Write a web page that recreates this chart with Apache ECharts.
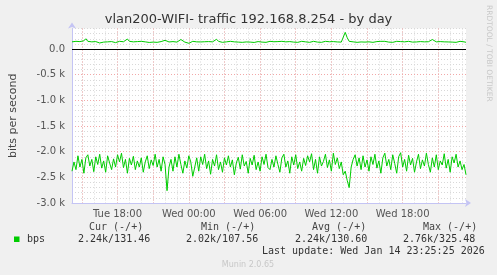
<!DOCTYPE html>
<html><head><meta charset="utf-8">
<script src="https://cdn.jsdelivr.net/npm/echarts@6/dist/echarts.min.js"></script>
<style>html,body{margin:0;padding:0;background:#f0f0f0}#c{width:497px;height:275px}</style>
</head><body><div id="c"></div>
<script>
// time axis: minutes since Tue 00:00, one sample every 10 minutes
const startMinute = 850;   // Tue 14:10
const stepMinutes = 10;
const dayNames = ['Tue', 'Wed'];

const yTickValues = [0, -500, -1000, -1500, -2000, -2500, -3000];
const yTickLabels = ['0.0', '-0.5 k', '-1.0 k', '-1.5 k', '-2.0 k', '-2.5 k', '-3.0 k'];

// outgoing traffic (drawn negative), bits per second
const outBps = [
 -2380,-2200,-2350,-2080,-2300,-2150,-2420,-2120,-2060,-2280,
 -2150,-2390,-2100,-2250,-2050,-2320,-2180,-2400,-2080,-2220,
 -2350,-2140,-2300,-2060,-2200,-2030,-2310,-2150,-2420,-2130,
 -2260,-2090,-2350,-2180,-2300,-2120,-2400,-2200,-2080,-2330,
 -2160,-2270,-2050,-2300,-2150,-2380,-2100,-2250,-2760,-2300,
 -2150,-2380,-2100,-2300,-2050,-2250,-2420,-2180,-2320,-2080,
 -2200,-2480,-2300,-2120,-2380,-2100,-2250,-2050,-2330,-2180,
 -2440,-2150,-2280,-2060,-2350,-2200,-2400,-2120,-2260,-2080,
 -2300,-2160,-2450,-2220,-2110,-2340,-2060,-2280,-2190,-2420,
 -2130,-2260,-2070,-2350,-2200,-2380,-2100,-2250,-2050,-2310,
 -2350,-2150,-2300,-2080,-2250,-2400,-2120,-2050,-2300,-2180,
 -2420,-2100,-2260,-2060,-2330,-2200,-2380,-2130,-2270,-2080,
 -2200,-2040,-2350,-2150,-2420,-2100,-2280,-2190,-2050,-2310,
 -2160,-2380,-2030,-2250,-2120,-2330,-2200,-2450,-2380,-2560,
 -2700,-2300,-2150,-2060,-2280,-2120,-2350,-2080,-2300,-2160,
 -2380,-2100,-2250,-2050,-2320,-2180,-2420,-2120,-2030,-2280,
 -2150,-2350,-2060,-2230,-2420,-2100,-2020,-2300,-2150,-2380,
 -2070,-2260,-2130,-2400,-2200,-2050,-2330,-2160,-2280,-2030,
 -2250,-2400,-2120,-2300,-2060,-2350,-2180,-2260,-2040,-2320,
 -2150,-2400,-2100,-2220,-2050,-2300,-2180,-2350,-2250,-2450
];
// incoming traffic, bits per second
const inBps = [
 140,135,150,130,145,125,160,200,150,135,
 140,130,145,150,118,140,135,150,140,130,
 145,138,125,140,150,135,142,160,195,150,
 135,140,130,145,138,150,132,140,145,128,
 150,135,140,130,142,145,135,170,150,138,
 130,145,140,135,150,185,150,135,140,112,
 145,150,135,140,130,138,150,142,130,145,
 135,140,150,190,150,138,130,145,140,135,
 150,128,140,145,135,150,130,142,138,145,
 135,150,128,140,145,160,135,140,130,145,
 150,135,142,130,145,138,150,135,140,108,
 145,150,135,140,130,142,150,135,140,145,
 130,138,150,140,135,145,130,140,150,135,
 142,130,145,140,138,150,135,140,325,220,
 150,135,140,145,130,150,138,142,135,145,
 140,150,130,140,145,135,150,180,150,140,
 135,145,130,140,150,138,145,135,140,130,
 150,140,135,145,138,130,145,150,140,135,
 142,130,185,150,140,135,145,130,140,150,
 138,145,135,140,130,145,150,135,140,131
];

const legendHeaders = ['Cur (-/+)', 'Min (-/+)', 'Avg (-/+)', 'Max (-/+)'];
const legendValues = ['2.24k/131.46', '2.02k/107.56', '2.24k/130.60', '2.76k/325.48'];
const lastUpdate = 'Last update: Wed Jan 14 23:25:25 2026';

function minuteOf(i) { return startMinute + i * stepMinutes; }
function fmtMinute(m) {
  const d = Math.floor(m / 1440), r = m % 1440;
  const hh = String(Math.floor(r / 60)).padStart(2, '0');
  const mm = String(r % 60).padStart(2, '0');
  return dayNames[d] + ' ' + hh + ':' + mm;
}
const categories = outBps.map((_, i) => fmtMinute(minuteOf(i)));

const GREEN = '#00cc00';
const AXIS = '#c4c4f4';
const MINOR = '#d8d8d8';
const MAJOR = '#f2a8a8';
const SANS = 'DejaVu Sans';
const MONO = 'DejaVu Sans Mono';

const chart = echarts.init(document.getElementById('c'), null, {renderer: 'canvas'});

const headerX = [89, 201, 312, 423];
const valueX = [78, 186, 295, 403];
const graphics = [
  {type: 'rect', shape: {x: 14, y: 236.5, width: 5.5, height: 5.5}, style: {fill: GREEN}, silent: true},
  {type: 'text', x: 27, y: 239.5, style: {text: 'bps', font: '10px ' + MONO, fill: '#333', verticalAlign: 'middle'}, silent: true},
  {type: 'text', x: 262, y: 251.5, style: {text: lastUpdate, font: '10px ' + MONO, fill: '#333', verticalAlign: 'middle'}, silent: true},
  {type: 'text', x: 248, y: 265, style: {text: 'Munin 2.0.65', font: '8px ' + SANS, fill: '#c8c8c8', align: 'center', verticalAlign: 'middle'}, silent: true},
  {type: 'text', x: 489, y: 5, rotation: -Math.PI / 2, style: {text: 'RRDTOOL / TOBI OETIKER', font: '7.5px ' + SANS, fill: '#c8c8c8', align: 'left', verticalAlign: 'middle'}, silent: true}
];
legendHeaders.forEach((t, k) => graphics.push({type: 'text', x: headerX[k], y: 227.5,
  style: {text: t, font: '10px ' + MONO, fill: '#444', verticalAlign: 'middle'}, silent: true}));
legendValues.forEach((t, k) => graphics.push({type: 'text', x: valueX[k], y: 239.5,
  style: {text: t, font: '10px ' + MONO, fill: '#333', verticalAlign: 'middle'}, silent: true}));

chart.setOption({
  animation: false,
  backgroundColor: '#f0f0f0',
  title: {
    text: 'vlan200-WIFI- traffic 192.168.8.254 - by day',
    left: 'center', top: 8,
    textStyle: {fontFamily: SANS, fontSize: 13, fontWeight: 'normal', color: '#333'}
  },
  grid: {left: 66, top: 28.5, right: 31, bottom: 72, show: true, backgroundColor: '#ffffff', borderWidth: 0},
  xAxis: [
    {
      type: 'category', data: categories, boundaryGap: false, position: 'bottom',
      axisLine: {show: true, onZero: false, lineStyle: {color: AXIS, width: 1},
        symbol: ['none', 'arrow'], symbolSize: [6, 6], symbolOffset: [0, 5]},
      axisTick: {show: false},
      axisLabel: {
        interval: (i) => minuteOf(i) % 360 === 0,
        color: '#555', fontFamily: SANS, fontSize: 10, margin: 6
      },
      splitLine: {show: true, interval: (i) => minuteOf(i) % 60 === 0,
        lineStyle: {color: MINOR, width: 1, type: [1, 2]}}
    },
    {
      type: 'category', data: categories, boundaryGap: false, position: 'top',
      axisLine: {show: false}, axisTick: {show: false}, axisLabel: {show: false},
      splitLine: {show: true, interval: (i) => minuteOf(i) % 180 === 0,
        lineStyle: {color: MAJOR, width: 1, type: [1, 2]}}
    }
  ],
  yAxis: [
    {
      type: 'value', min: -3000, max: 400, interval: 500, position: 'left', z: 1,
      name: 'bits per second', nameLocation: 'middle', nameRotate: 90, nameGap: 53,
      nameTextStyle: {fontFamily: SANS, fontSize: 11, color: '#444'},
      axisLine: {show: true, lineStyle: {color: AXIS, width: 1},
        symbol: ['none', 'arrow'], symbolSize: [6, 6], symbolOffset: [0, 6]},
      axisTick: {show: false},
      axisLabel: {
        showMaxLabel: false,
        formatter: (v) => { const k = yTickValues.indexOf(v); return k >= 0 ? yTickLabels[k] : ''; },
        color: '#555', fontFamily: SANS, fontSize: 10, margin: 7
      },
      splitLine: {show: true, showMaxLine: false, showMinLine: false,
        lineStyle: {color: MAJOR, width: 1, type: [1, 2]}}
    },
    {
      type: 'value', min: -3000, max: 400, interval: 100, position: 'right', z: 0,
      axisLine: {show: false}, axisTick: {show: false}, axisLabel: {show: false},
      splitLine: {show: true, showMinLine: false,
        lineStyle: {color: MINOR, width: 1, type: [1, 2]}}
    }
  ],
  series: [
    {
      type: 'line', name: 'bps', data: outBps, xAxisIndex: 0, yAxisIndex: 0,
      showSymbol: false, symbol: 'none', lineStyle: {color: GREEN, width: 1}, itemStyle: {color: GREEN}, z: 3
    },
    {
      type: 'line', name: 'bps', data: inBps, xAxisIndex: 0, yAxisIndex: 0,
      showSymbol: false, symbol: 'none', lineStyle: {color: GREEN, width: 1}, itemStyle: {color: GREEN}, z: 3,
      markLine: {silent: true, symbol: 'none', label: {show: false},
        lineStyle: {color: '#000', width: 1, type: 'solid'}, data: [{yAxis: 0}]}
    }
  ],
  graphic: graphics
});
</script></body></html>
